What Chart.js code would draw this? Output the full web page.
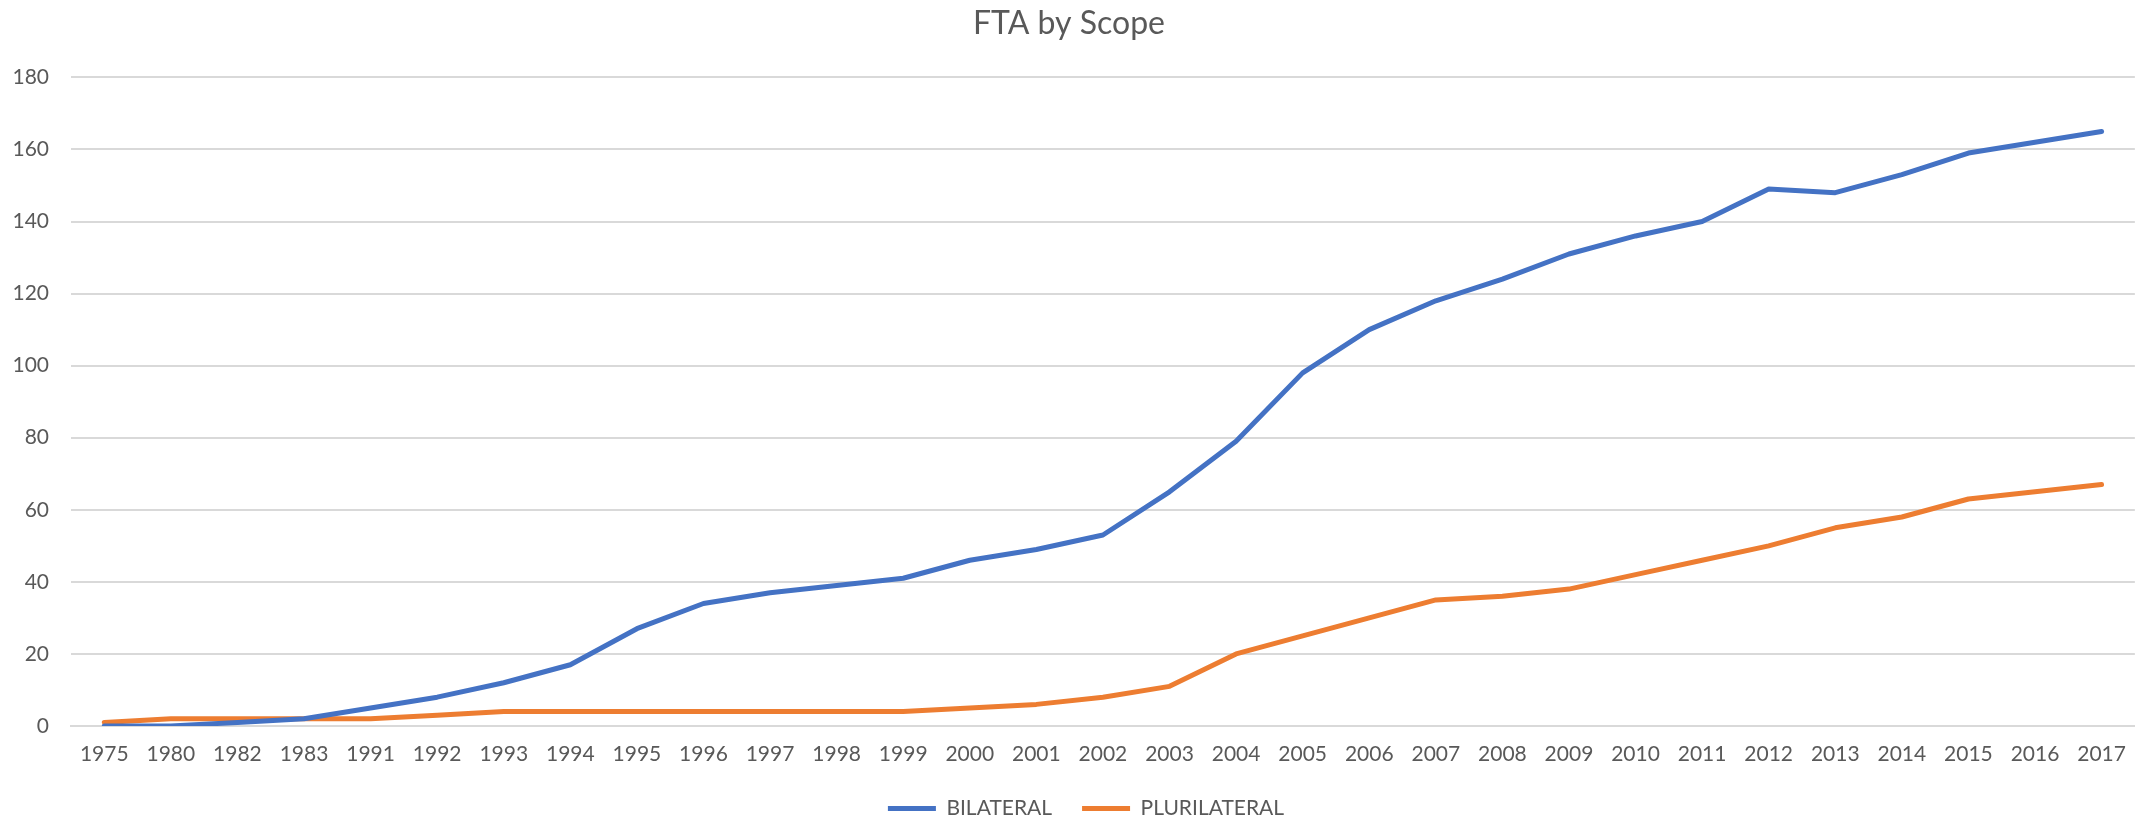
<!DOCTYPE html>
<html>
<head>
<meta charset="utf-8">
<script src="https://cdn.jsdelivr.net/npm/chart.js@4.4.0/dist/chart.umd.min.js"></script>
<style>
  html, body { margin: 0; padding: 0; background: #ffffff; }
  #wrap { width: 2142px; height: 823px; position: relative; }
</style>
</head>
<body>
<div id="wrap"><canvas id="c" width="2142" height="823"></canvas></div>
<script>
const categories = ['1975','1980','1982','1983','1991','1992','1993','1994','1995','1996','1997','1998','1999','2000','2001','2002','2003','2004','2005','2006','2007','2008','2009','2010','2011','2012','2013','2014','2015','2016','2017'];
const bilateral = [0,0,1,2,5,8,12,17,27,34,37,39,41,46,49,53,65,79,98,110,118,124,131,136,140,149,148,153,159,162,165];
const plurilateral = [1,2,2,2,2,3,4,4,4,4,4,4,4,5,6,8,11,20,25,30,35,36,38,42,46,50,55,58,63,65,67];
const yTicks = [0,20,40,60,80,100,120,140,160,180];

const FONT = "Lato, 'Open Sans', sans-serif";
const TEXT = '#595959';

const legendShift = {
  id: 'legendShift',
  afterLayout(chart) {
    if (chart.legend) { chart.legend.left += 17; chart.legend.right += 17; }
  }
};

new Chart(document.getElementById('c'), {
  type: 'line',
  data: {
    labels: categories,
    datasets: [
      { label: 'BILATERAL', data: bilateral, borderColor: '#4472C4', backgroundColor: '#4472C4', borderWidth: 5, pointRadius: 0, tension: 0, borderCapStyle: 'round', borderJoinStyle: 'round' },
      { label: 'PLURILATERAL', data: plurilateral, borderColor: '#ED7D31', backgroundColor: '#ED7D31', borderWidth: 5, pointRadius: 0, tension: 0, borderCapStyle: 'round', borderJoinStyle: 'round' }
    ]
  },
  plugins: [legendShift],
  options: {
    responsive: false,
    animation: false,
    layout: { padding: { left: 0, right: 4, top: 0, bottom: -6 } },
    plugins: {
      title: {
        display: true,
        text: 'FTA by Scope',
        color: TEXT,
        font: { family: FONT, size: 32, weight: 'normal' },
        padding: { top: 4, bottom: 35 }
      },
      legend: {
        position: 'bottom',
        labels: {
          color: TEXT,
          font: { family: FONT, size: 21 },
          usePointStyle: true,
          pointStyle: 'line',
          pointStyleWidth: 48,
          boxHeight: 21,
          padding: 30
        }
      },
      tooltip: { enabled: false }
    },
    scales: {
      x: {
        type: 'category',
        offset: true,
        afterFit: (s) => { s.height = 42; },
        grid: { display: false, drawTicks: false },
        border: { display: true, color: '#D9D9D9', width: 2 },
        ticks: { color: TEXT, font: { family: FONT, size: 21 }, padding: 16, autoSkip: false, maxRotation: 0 }
      },
      y: {
        min: 0,
        max: 180,
        afterBuildTicks: (s) => { s.ticks = yTicks.map(v => ({ value: v })); },
        afterFit: (s) => { s.width = 71; },
        grid: { color: '#D9D9D9', lineWidth: 2, drawTicks: false },
        border: { display: false },
        ticks: { color: TEXT, font: { family: FONT, size: 21 }, padding: 22 }
      }
    }
  }
});
</script>
</body>
</html>
